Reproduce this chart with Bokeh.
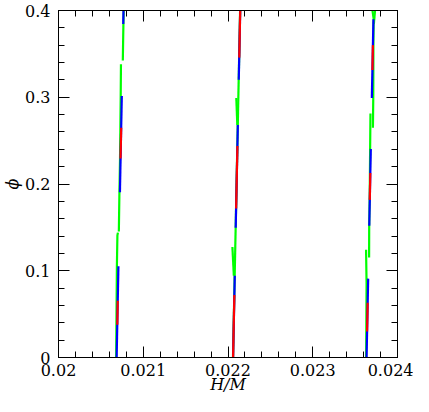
from bokeh.plotting import figure
from bokeh.models import Range1d, LinearAxis, FixedTicker
from bokeh.embed import file_html
from bokeh.resources import INLINE

# ---- axes / ticks ----
x_major = [0.020, 0.021, 0.022, 0.023, 0.024]
x_labels = ["0.02", "0.021", "0.022", "0.023", "0.024"]
y_major = [0.0, 0.1, 0.2, 0.3, 0.4]
y_labels = ["0", "0.1", "0.2", "0.3", "0.4"]
x_minor = [round(0.020 + i * 0.0002, 6) for i in range(21)]
y_minor = [round(0.0 + i * 0.02, 4) for i in range(21)]

# ---- group 1 (H/M ~ 0.0207) ----
g1_green_x = [[0.020680, 0.020689, 0.020695, 0.020701],
              [0.020712, 0.020718, 0.020726, 0.020731, 0.020734, 0.020737],
              [0.020759, 0.020764, 0.020769]]
g1_green_y = [[0.0, 0.1053, 0.1407, 0.1440],
              [0.1452, 0.1850, 0.2294, 0.2737, 0.3014, 0.3380],
              [0.3424, 0.3734, 0.4]]
g1_blue_x = [[0.020686, 0.020707], [0.020725, 0.020747], [0.020764, 0.020767]]
g1_blue_y = [[0.0, 0.1053], [0.1906, 0.3014], [0.3845, 0.4]]
g1_red_x = [[0.020694, 0.020699], [0.020732, 0.020740]]
g1_red_y = [[0.0377, 0.0654], [0.2294, 0.2648]]

# ---- group 2 (H/M ~ 0.0221) ----
g2_green_x = [[0.022059, 0.022143], [0.022098, 0.022110], [0.022052, 0.022069]]
g2_green_y = [[0.0, 0.4], [0.2992, 0.2681], [0.1274, 0.0942]]
g2_blue_x = [[0.022060, 0.022080], [0.022091, 0.022116], [0.022127, 0.022144]]
g2_blue_y = [[0.0, 0.0942], [0.1496, 0.2681], [0.3202, 0.4]]
g2_red_x = [[0.022060, 0.022075], [0.022096, 0.022111], [0.022133, 0.022144]]
g2_red_y = [[0.0, 0.0720], [0.1717, 0.2438], [0.3457, 0.4]]

# ---- group 3 (H/M ~ 0.0237) ----
g3_green_x = [[0.023630, 0.023635, 0.023629],
              [0.023665, 0.023666, 0.023672, 0.023677, 0.023681],
              [0.023710, 0.023714, 0.023716, 0.023719, 0.023705],
              [0.023721, 0.023735]]
g3_green_y = [[0.0, 0.0853, 0.1241],
              [0.1152, 0.1518, 0.1850, 0.2404, 0.2814],
              [0.2648, 0.2992, 0.3623, 0.3900, 0.4],
              [0.3845, 0.4]]
g3_blue_x = [[0.023635, 0.023654], [0.023667, 0.023685], [0.023697, 0.023716]]
g3_blue_y = [[0.0, 0.0909], [0.1518, 0.2404], [0.2992, 0.3900]]
g3_red_x = [[0.023641, 0.023648], [0.023673, 0.023679], [0.023704, 0.023710]]
g3_red_y = [[0.0299, 0.0632], [0.1817, 0.2127], [0.3313, 0.3601]]

GREEN, BLUE, RED = "#00ff00", "#0000ff", "#ff0000"
FONT = "DejaVu Serif"

p = figure(width=413, height=396, output_backend="svg", toolbar_location=None,
           x_range=Range1d(0.020, 0.024), y_range=Range1d(0.0, 0.4),
           x_axis_label="H/M", y_axis_label="\u03d5",
           min_border_left=50, min_border_right=16, min_border_top=10, min_border_bottom=0)
p.grid.visible = False
p.outline_line_color = "black"
p.outline_line_width = 1

for gx, gy, col in [(g1_green_x, g1_green_y, GREEN), (g2_green_x, g2_green_y, GREEN),
                    (g3_green_x, g3_green_y, GREEN),
                    (g1_blue_x, g1_blue_y, BLUE), (g2_blue_x, g2_blue_y, BLUE),
                    (g3_blue_x, g3_blue_y, BLUE),
                    (g1_red_x, g1_red_y, RED), (g2_red_x, g2_red_y, RED),
                    (g3_red_x, g3_red_y, RED)]:
    p.multi_line(xs=gx, ys=gy, line_color=col, line_width=2.2)

xt = FixedTicker(ticks=x_major, minor_ticks=x_minor)
yt = FixedTicker(ticks=y_major, minor_ticks=y_minor)


def style(ax, labels=True):
    ax.axis_line_color = "black"
    ax.major_tick_line_color = "black"
    ax.minor_tick_line_color = "black"
    ax.major_tick_in = 11
    ax.major_tick_out = 0
    ax.minor_tick_in = 6
    ax.minor_tick_out = 0
    ax.major_label_text_font = FONT
    ax.major_label_text_font_size = "16px"
    ax.major_label_text_color = "black"
    ax.axis_label_text_font = FONT
    ax.axis_label_text_font_size = "16px"
    ax.axis_label_text_font_style = "italic"
    ax.axis_label_text_color = "black"
    if not labels:
        ax.major_label_text_font_size = "0px"
        ax.major_label_standoff = 0


p.xaxis.ticker = xt
p.yaxis.ticker = yt
p.xaxis.major_label_overrides = {v: s for v, s in zip(x_major, x_labels)}
p.yaxis.major_label_overrides = {v: s for v, s in zip(y_major, y_labels)}
style(p.xaxis[0])
style(p.yaxis[0])
p.xaxis.major_label_standoff = 6
p.xaxis.axis_label_standoff = -4
p.yaxis.major_label_standoff = 8
p.yaxis.axis_label_standoff = 0

top = LinearAxis(ticker=xt)
top.major_label_overrides = {v: "" for v in x_major}
style(top, labels=False)
right = LinearAxis(ticker=yt)
right.major_label_overrides = {v: "" for v in y_major}
style(right, labels=False)
p.add_layout(top, "above")
p.add_layout(right, "right")

open("out.html", "w").write(file_html(p, INLINE))
